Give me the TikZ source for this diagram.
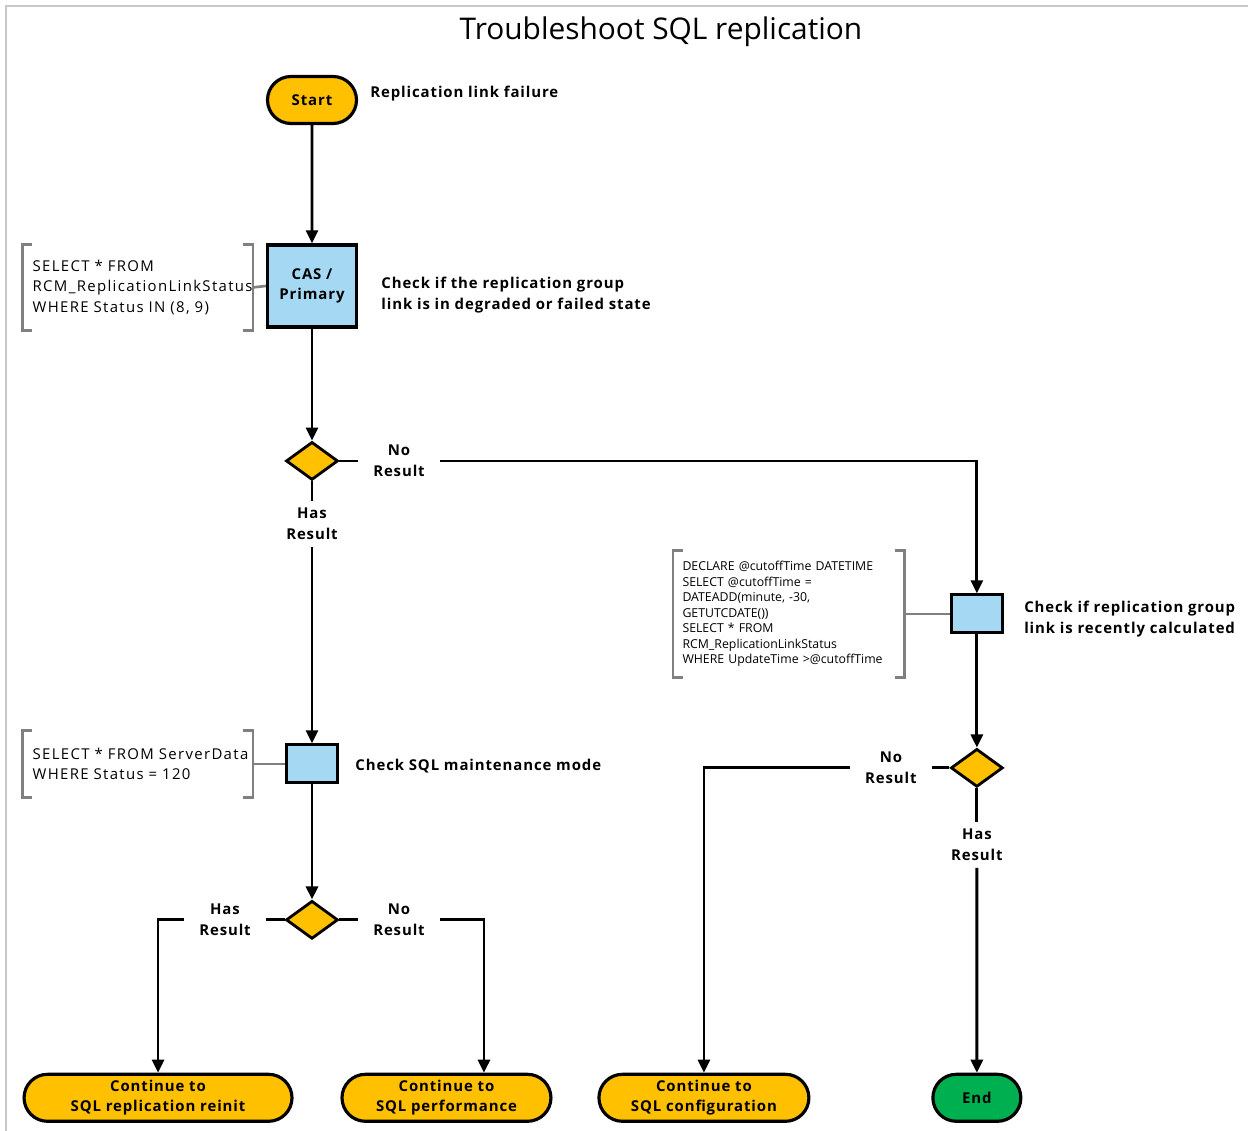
\documentclass[tikz,border=0pt]{standalone}
\usepackage{fontspec}
\setmainfont{Open Sans}
\newfontfamily\lblfont{Open Sans}[LetterSpace=6]
\newfontfamily\codefont{Open Sans}[LetterSpace=9]
\newfontfamily\smallcode{Open Sans}[LetterSpace=0]
\usepackage{xcolor}
\usetikzlibrary{positioning}
\usetikzlibrary{arrows.meta,shapes}

\definecolor{termyellow}{HTML}{FFC000}
\definecolor{procblue}{HTML}{A5D8F3}
\definecolor{endgreen}{HTML}{00B050}
\definecolor{bracketgray}{HTML}{808080}
\definecolor{framegray}{HTML}{C8C8C8}

\begin{document}
\begin{tikzpicture}[x=0.02cm,y=-0.02cm,on grid,node distance=3cm,
  >={Triangle[length=0.26cm,width=0.24cm]},
  flow/.style={line width=1.6pt},
  term/.style={rounded rectangle,draw,line width=1.8pt,fill=termyellow,minimum height=0.94cm,
    align=center,font=\lblfont\bfseries\fontsize{8.5}{11.5}\selectfont,inner sep=0pt},
  proc/.style={rectangle,draw,line width=1.8pt,fill=procblue,minimum width=1.02cm,minimum height=0.76cm,
    align=center,font=\lblfont\bfseries\fontsize{8.5}{11.5}\selectfont},
  dec/.style={diamond,draw,line width=1.6pt,fill=termyellow,minimum width=1.04cm,minimum height=0.76cm,inner sep=0pt},
  res/.style={align=center,font=\lblfont\bfseries\fontsize{8.5}{11.7}\selectfont,inner xsep=0.3cm,inner ysep=0.14cm},
  note/.style={align=left,font=\lblfont\bfseries\fontsize{8.5}{11.8}\selectfont,inner sep=0pt,anchor=west},
  query/.style={align=left,inner xsep=0.2cm,inner ysep=0pt,anchor=east,font=\codefont\fontsize{8.5}{11.7}\selectfont},
  bracket/.style={draw=bracketgray,line width=1.5pt}]

  \useasboundingbox (0,0) rectangle (1248,1131);
  \draw[framegray,line width=1.2pt] (6,1131) -- (6,6) -- (1248,6);

  \node[font=\fontsize{17}{20}\selectfont] (title) at (661,32) {Troubleshoot SQL replication};

  % main column
  \node[term,minimum width=1.78cm] (start) at (312,100) {Start};
  \node[proc,minimum width=1.78cm,minimum height=1.64cm] (cas) [below=3.72cm of start] {CAS /\\Primary};
  \node[dec] (d1) [below=3.5cm of cas] {};
  \node[res] (nr1) [right=1.74cm of d1] {No\\Result};
  \node[res] (hr1) [below=1.26cm of d1] {Has\\Result};
  \node[proc] (maint) [below=6.06cm of d1] {};
  \node[dec] (d2) [below=3.12cm of maint] {};
  \node[res] (hr2) [left=1.74cm of d2] {Has\\Result};
  \node[res] (nr2) [right=1.74cm of d2] {No\\Result};

  % right column
  \node[proc] (chk2) [below right=3.06cm and 13.3cm of d1] {};
  \node[dec] (d3) [below=3.08cm of chk2] {};
  \node[res] (nr3) [left=1.72cm of d3] {No\\Result};
  \node[res] (hr3) [below=1.54cm of d3] {Has\\Result};

  % end points
  \node[term,minimum width=1.76cm,fill=endgreen] (stop) [below=6.6cm of d3] {End};
  \node[term,minimum width=4.2cm] (conf) [left=5.46cm of stop] {Continue to\\SQL configuration};
  \node[term,minimum width=4.18cm] (perf) [left=5.15cm of conf] {Continue to\\SQL performance};
  \node[term,minimum width=5.36cm] (reinit) [left=5.77cm of perf] {Continue to\\SQL replication reinit};

  % side notes
  \node[note] (failnote) at ([xshift=0.24cm,yshift=0.12cm]start.east) {Replication link failure};
  \node[note] (casnote) at ([xshift=0.46cm,yshift=-0.18cm]cas.east) {Check if the replication group\\link is in degraded or failed state};
  \node[note] (maintnote) at ([xshift=0.32cm,yshift=-0.04cm]maint.east) {Check SQL maintenance mode};
  \node[note] (chk2note) at ([xshift=0.4cm,yshift=-0.1cm]chk2.east) {Check if replication group\\link is recently calculated};

  % queries
  \node[query,text width=4.2cm,minimum height=1.7cm] (q1) at ([xshift=-0.26cm,yshift=-0.03cm]cas.west)
    {SELECT * FROM\\\mbox{RCM\_ReplicationLinkStatus}\\WHERE Status IN (8, 9)};
  \node[query,text width=4.2cm,minimum height=1.32cm] (q2) at ([xshift=-0.64cm]maint.west)
    {\mbox{SELECT * FROM ServerData}\\WHERE Status = 120};
  \node[query,text width=4.26cm,minimum height=2.52cm,inner xsep=0.18cm,font=\smallcode\fontsize{7}{8.8}\selectfont] (q3) at ([xshift=-0.9cm]chk2.west)
    {DECLARE @cutoffTime DATETIME\\SELECT @cutoffTime =\\DATEADD(minute, -30,\\GETUTCDATE())\\SELECT * FROM\\RCM\_ReplicationLinkStatus\\WHERE UpdateTime >@cutoffTime};

  \draw[bracket] ([xshift=0.2cm]q1.north west) -| (q1.south west) -- ++(0.2cm,0);
  \draw[bracket] ([xshift=-0.2cm]q1.north east) -| (q1.south east) -- ++(-0.2cm,0);
  \draw[bracket] ([xshift=0.2cm]q2.north west) -| (q2.south west) -- ++(0.2cm,0);
  \draw[bracket] ([xshift=-0.2cm]q2.north east) -| (q2.south east) -- ++(-0.2cm,0);
  \draw[bracket] ([xshift=0.2cm]q3.north west) -| (q3.south west) -- ++(0.2cm,0);
  \draw[bracket] ([xshift=-0.2cm]q3.north east) -| (q3.south east) -- ++(-0.2cm,0);
  \draw[bracket] (q1.east) -- (cas.west);
  \draw[bracket] (q2.east) -- (maint.west);
  \draw[bracket] (q3.east) -- (chk2.west);

  % flow
  \draw[flow,->] (start) -- (cas);
  \draw[flow,->] (cas) -- (d1);
  \draw[flow] (d1) -- (nr1);
  \draw[flow,->] (nr1) -| (chk2);
  \draw[flow] (d1) -- (hr1);
  \draw[flow,->] (hr1) -- (maint);
  \draw[flow,->] (maint) -- (d2);
  \draw[flow] (d2) -- (hr2);
  \draw[flow,->] (hr2) -| (reinit);
  \draw[flow] (d2) -- (nr2);
  \draw[flow,->] (nr2) -| ([xshift=0.75cm]perf.north);
  \draw[flow,->] (chk2) -- (d3);
  \draw[flow] (d3) -- (nr3);
  \draw[flow,->] (nr3) -| (conf);
  \draw[flow] (d3) -- (hr3);
  \draw[flow,->] (hr3) -- (stop);
\end{tikzpicture}
\end{document}
